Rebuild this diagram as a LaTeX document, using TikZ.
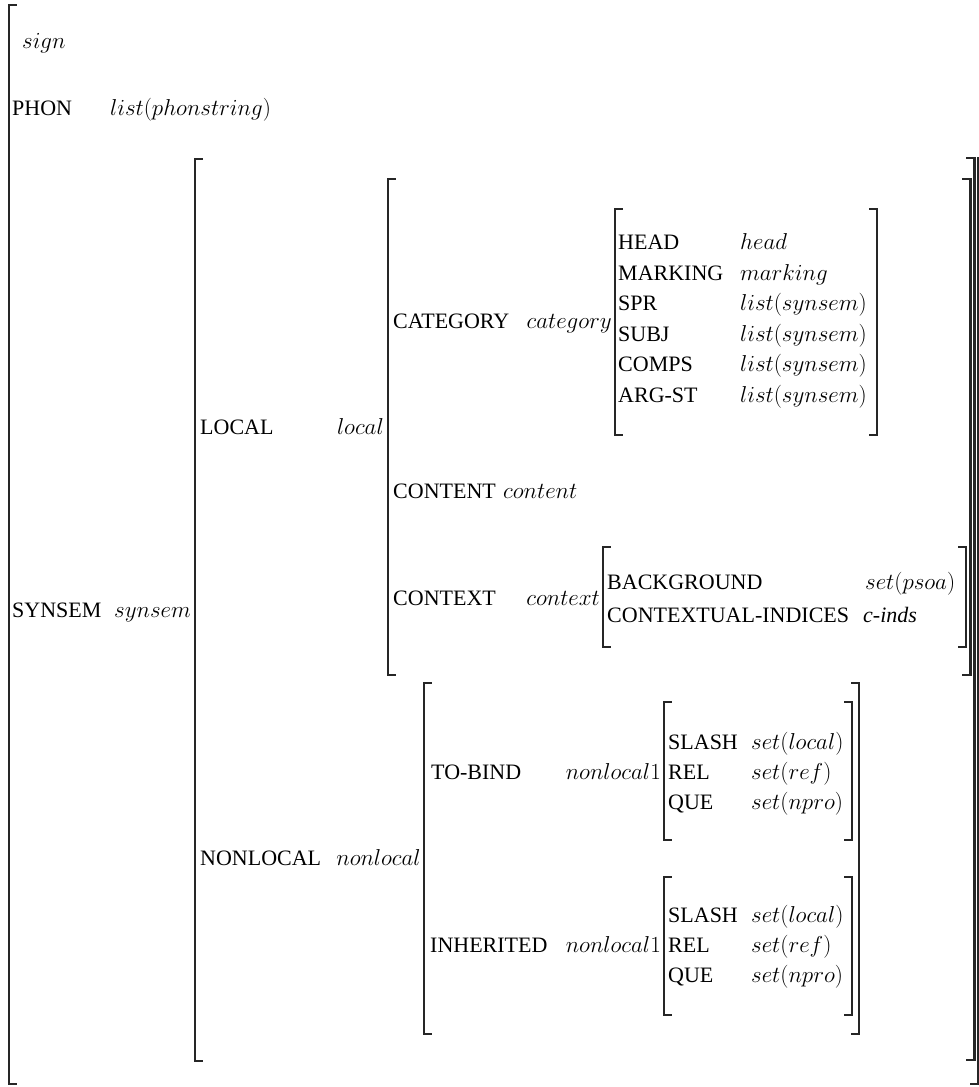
\RequirePackage{fix-cm}
\documentclass[tikz,border=0pt]{standalone}
\usepackage{fontspec}
\setmainfont{Liberation Serif}
\begin{document}
\begin{tikzpicture}[x=1pt,y=-1pt,
  every node/.style={inner sep=0pt,font=\fontsize{22}{27}\selectfont},
  feat/.style={anchor=base west},
  val/.style={anchor=base west,font=\fontsize{23}{27}\selectfont},
  valr/.style={anchor=base east,font=\fontsize{23}{27}\selectfont},
  brk/.style={line width=2.3pt,line join=miter,line cap=rect,black!85}]
\useasboundingbox (0,0) rectangle (979,1087);

% square brackets: x, top, bottom
\newcommand\lbrk[3]{\draw[brk] (#1+7,#2) -- (#1,#2) -- (#1,#3) -- (#1+7,#3);}
\newcommand\rbrk[3]{\draw[brk] (#1-7,#2) -- (#1,#2) -- (#1,#3) -- (#1-7,#3);}

% sign
\lbrk{9}{5}{1084}
\draw[brk] (978,158) -- (978,1084) -- (971,1084);
\node[val] (sign) at (22,48) {$sign$};
\node[feat] (phon) at (12,115) {PHON};
\node[val] (phonv) at (110,115) {$list(phonstring)$};

% synsem
\node[feat] (synsem) at (12,617) {SYNSEM};
\node[valr] (synsemv) at (191,617) {$synsem$};
\lbrk{195}{159}{1061}
\rbrk{974.5}{158}{1060}

% local
\node[feat] (loc) at (200,434) {LOCAL};
\node[valr] (locv) at (384,434) {$local$};
\lbrk{388}{179}{675}
\rbrk{970.5}{179}{675}

% category
\node[feat] (cat) at (393,328) {CATEGORY};
\node[valr] (catv) at (612,328) {$category$};
\lbrk{615}{209}{435}
\rbrk{877}{209}{435}
\node[feat] (head) at (618,249) {HEAD};
\node[val] (headv) at (740,249) {$head$};
\node[feat] (mark) at (618,280) {MARKING};
\node[val] (markv) at (740,280) {$marking$};
\node[feat] (spr) at (618,310) {SPR};
\node[val] (sprv) at (740,310) {$list(synsem)$};
\node[feat] (subj) at (618,341) {SUBJ};
\node[val] (subjv) at (740,341) {$list(synsem)$};
\node[feat] (comps) at (618,371) {COMPS};
\node[val] (compsv) at (740,371) {$list(synsem)$};
\node[feat] (argst) at (618,402) {ARG-ST};
\node[val] (argstv) at (740,402) {$list(synsem)$};

% content
\node[feat] (cont) at (393,498) {CONTENT};
\node[val] (contv) at (503,498) {$content$};

% context
\node[feat] (ctx) at (393,605) {CONTEXT};
\node[valr] (ctxv) at (600,605) {$context$};
\lbrk{603}{547}{647}
\rbrk{966}{547}{647}
\node[feat] (bg) at (607,589) {BACKGROUND};
\node[val] (bgv) at (865,589) {$set(psoa)$};
\node[feat] (ci) at (607,622) {CONTEXTUAL-INDICES};
\node[val,font=\fontsize{22}{27}\selectfont] (civ) at (863,622) {\textit{c-inds}};

% nonlocal
\node[feat] (nloc) at (200,865) {NONLOCAL};
\node[valr] (nlocv) at (421,865) {$nonlocal$};
\lbrk{424}{683}{1034}
\rbrk{859}{683}{1034}

% to-bind
\node[feat] (tob) at (431,779) {TO-BIND};
\node[valr] (tobv) at (661,779) {$nonlocal1$};
\lbrk{664}{702}{840}
\rbrk{852}{702}{840}
\node[feat] (tslash) at (668,749) {SLASH};
\node[val] (tslashv) at (751,749) {$set(local)$};
\node[feat] (trel) at (668,779) {REL};
\node[val] (trelv) at (751,779) {$set(ref)$};
\node[feat] (tque) at (668,809) {QUE};
\node[val] (tquev) at (751,809) {$set(npro)$};

% inherited
\node[feat] (inh) at (430,952) {INHERITED};
\node[valr] (inhv) at (661,952) {$nonlocal1$};
\lbrk{664}{877}{1015}
\rbrk{852}{877}{1015}
\node[feat] (islash) at (668,922) {SLASH};
\node[val] (islashv) at (751,922) {$set(local)$};
\node[feat] (irel) at (668,952) {REL};
\node[val] (irelv) at (751,952) {$set(ref)$};
\node[feat] (ique) at (668,982) {QUE};
\node[val] (iquev) at (751,982) {$set(npro)$};
\end{tikzpicture}
\end{document}
